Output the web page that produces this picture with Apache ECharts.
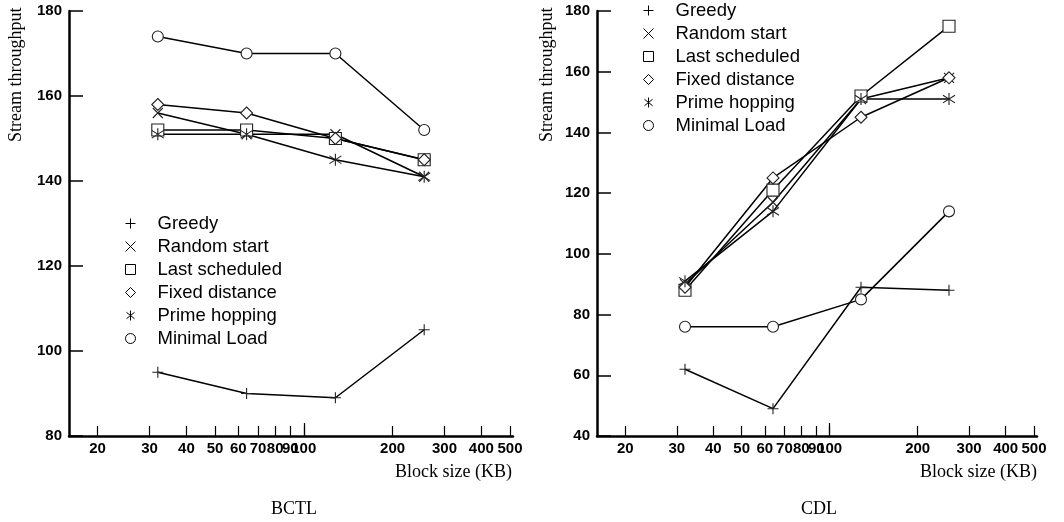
<!DOCTYPE html>
<html>
<head>
<meta charset="utf-8">
<script src="https://cdn.jsdelivr.net/npm/echarts@6/dist/echarts.min.js"></script>
<style>html,body{margin:0;padding:0;background:#fff}#c{width:1064px;height:522px}</style>
</head>
<body>
<div id="c"></div>
<script>
// ---- data ----
const seriesNames = ['Greedy', 'Random start', 'Last scheduled', 'Fixed distance', 'Prime hopping', 'Minimal Load'];
const blockSizes = [32, 64, 128, 256];
const xTickValues = [20, 30, 40, 50, 60, 70, 80, 90, 100, 200, 300, 400, 500];

// BCTL
const bctlGreedy = [95, 90, 89, 105];
const bctlRandom = [156, 151, 151, 141];
const bctlLast = [152, 152, 150, 145];
const bctlFixed = [158, 156, 150, 145];
const bctlPrime = [151, 151, 145, 141];
const bctlMinLoad = [174, 170, 170, 152];

// CDL
const cdlGreedy = [62, 49, 89, 88];
const cdlRandom = [90, 117, 151, 158];
const cdlLast = [88, 121, 152, 175];
const cdlFixed = [89, 125, 145, 158];
const cdlPrime = [91, 114, 151, 151];
const cdlMinLoad = [76, 76, 85, 114];

// ---- styles ----
const symbols = [
  'path://M0,5L10,5M5,0L5,10',
  'path://M0,0L10,10M0,10L10,0',
  'path://M0,0L10,0L10,10L0,10Z',
  'path://M5,0L10,5L5,10L0,5Z',
  'path://M5,0L5,10M1,1.8L9,8.2M1,8.2L9,1.8',
  'circle'
];
const symbolSizes = [11, 10, 12, 12, 12, 11];
const SERIF = '"Liberation Serif", "Times New Roman", serif';
const SANS = '"Liberation Sans", Arial, sans-serif';

const chart = echarts.init(document.getElementById('c'), null, {renderer: 'canvas'});

function makeSeries(arrs, axisIdx) {
  return arrs.map((vals, i) => ({
    type: 'line',
    name: seriesNames[i],
    xAxisIndex: axisIdx,
    yAxisIndex: axisIdx / 2,
    data: blockSizes.map((b, k) => [b, vals[k]]),
    symbol: symbols[i],
    symbolSize: symbolSizes[i],
    showAllSymbol: true,
    lineStyle: {color: '#000', width: 1.5},
    itemStyle: {color: '#fff', borderColor: '#222', borderWidth: 1.1},
    emphasis: {disabled: true},
    animation: false
  }));
}

function xAxes(gridIndex) {
  return [{
    type: 'log', logBase: 10, gridIndex: gridIndex, min: 16, max: 512, position: 'bottom',
    axisLine: {show: true, lineStyle: {color: '#000', width: 2.5}},
    axisTick: {show: true, inside: true, length: 10, customValues: xTickValues, lineStyle: {color: '#000', width: 1.2}},
    axisLabel: {show: true, customValues: xTickValues, color: '#000', fontWeight: 'bold', fontSize: 15, fontFamily: SANS, margin: 5, hideOverlap: false},
    splitLine: {show: false}, minorTick: {show: false}, minorSplitLine: {show: false}
  }, {
    type: 'log', logBase: 10, gridIndex: gridIndex, min: 16, max: 512, position: 'bottom', offset: 0,
    axisLine: {show: false},
    axisTick: {show: true, inside: true, length: 13, customValues: [100], lineStyle: {color: '#000', width: 1.2}},
    axisLabel: {show: false},
    splitLine: {show: false}
  }];
}

function yAxis(gridIndex, min) {
  return {
    type: 'value', gridIndex: gridIndex, min: min, max: 180, interval: 20,
    axisLine: {show: true, lineStyle: {color: '#000', width: 2.5}},
    axisTick: {show: true, inside: true, length: 14, lineStyle: {color: '#000', width: 1.5}},
    axisLabel: {color: '#000', fontWeight: 'bold', fontSize: 15, fontFamily: SANS, margin: 7},
    splitLine: {show: false}
  };
}

function legend(left, top) {
  return {
    orient: 'vertical', left: left, top: top, padding: 0,
    itemWidth: 44, itemHeight: 10, itemGap: 4,
    symbolKeepAspect: true,
    selectedMode: false,
    data: seriesNames.map((n, i) => ({name: n, icon: symbols[i]})),
    itemStyle: {color: '#fff', borderColor: '#000', borderWidth: 1},
    textStyle: {color: '#000', fontSize: 18.5, fontFamily: SANS, lineHeight: 18}
  };
}

function txt(text, x, y, align, rot) {
  return {
    type: 'text', x: x, y: y, rotation: rot || 0,
    style: {text: text, font: '18px ' + SERIF, fill: '#000', align: align, verticalAlign: 'middle'}
  };
}

const option = {
  animation: false,
  backgroundColor: '#fff',
  grid: [
    {left: 69, top: 11, width: 444, height: 425, outerBoundsMode: 'none', containLabel: false},
    {left: 597, top: 11, width: 440, height: 425, outerBoundsMode: 'none', containLabel: false}
  ],
  xAxis: xAxes(0).concat(xAxes(1)),
  yAxis: [yAxis(0, 80), yAxis(1, 40)],
  legend: [legend(125, 214), legend(643, 1)],
  series: makeSeries([bctlGreedy, bctlRandom, bctlLast, bctlFixed, bctlPrime, bctlMinLoad], 0)
    .concat(makeSeries([cdlGreedy, cdlRandom, cdlLast, cdlFixed, cdlPrime, cdlMinLoad], 2)),
  graphic: [
    txt('Stream throughput', 16, 142, 'left', Math.PI / 2),
    txt('Stream throughput', 547, 142, 'left', Math.PI / 2),
    txt('Block size (KB)', 512, 472, 'right'),
    txt('Block size (KB)', 1037, 472, 'right'),
    txt('BCTL', 294, 509, 'center'),
    txt('CDL', 819, 509, 'center')
  ]
};
chart.setOption(option);
</script>
</body>
</html>
